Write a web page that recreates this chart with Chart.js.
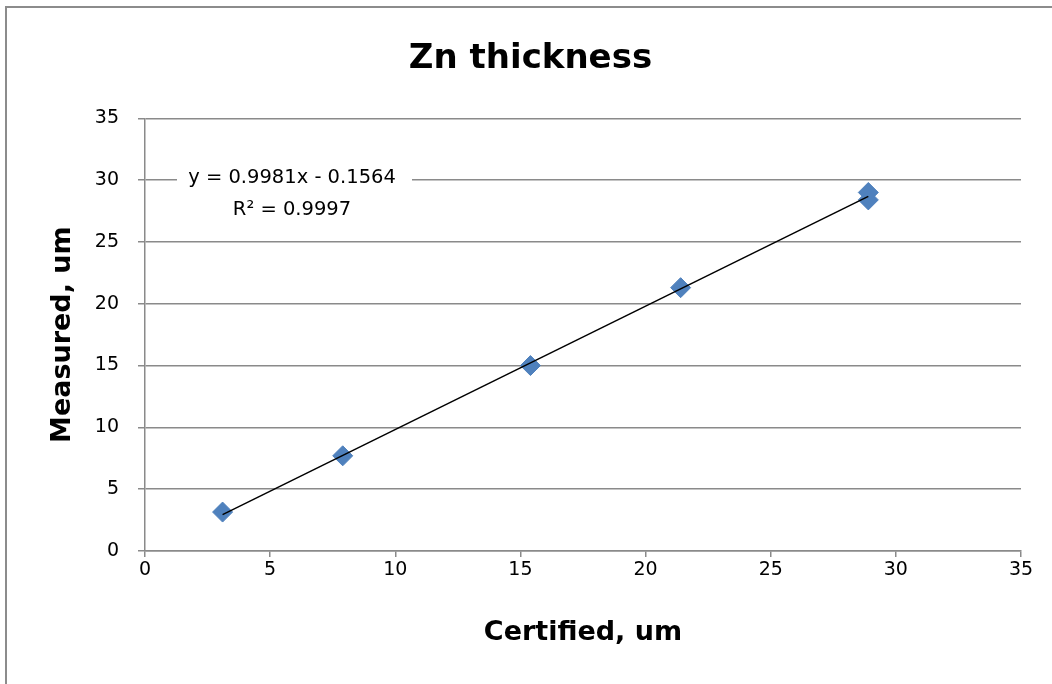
<!DOCTYPE html>
<html>
<head>
<meta charset="utf-8">
<script src="https://cdn.jsdelivr.net/npm/chart.js@4"></script>
<style>
  html, body { margin: 0; padding: 0; background: #fff; }
  #wrap { width: 1052px; height: 684px; position: relative; }
</style>
</head>
<body>
<div id="wrap"><canvas id="scatter-chart"></canvas></div>
<script>
// values
const certified = [3.1, 7.9, 15.4, 21.4, 28.9, 28.9];
const measured = [3.15, 7.7, 15.0, 21.3, 29.0, 28.4];
// trendline ends, as drawn in the picture
const trendX = [3.1, 28.9];
const trendY = [2.94, 28.69];
const eqLines = ['y = 0.9981x - 0.1564', 'R² = 0.9997'];

const FONT = '"DejaVu Sans", sans-serif';
const GRID = '#8a8a8a';

// outer frame + trendline label box
const excelBits = {
    id: 'excelBits',
    beforeDraw(chart) {
        const ctx = chart.ctx;
        ctx.save();
        ctx.fillStyle = '#fff';
        ctx.fillRect(0, 0, chart.width, chart.height);
        ctx.strokeStyle = '#8c8c8c';
        ctx.lineWidth = 2;
        ctx.beginPath();
        ctx.moveTo(6, chart.height);
        ctx.lineTo(6, 7);
        ctx.lineTo(chart.width, 7);
        ctx.stroke();
        ctx.restore();
    },
    afterDraw(chart) {
        const ctx = chart.ctx;
        const a = chart.chartArea;
        ctx.save();
        ctx.fillStyle = '#fff';
        ctx.fillRect(a.left + 32, a.top + 50, 235, 54);
        ctx.fillStyle = '#000';
        ctx.font = '19.5px ' + FONT;
        ctx.textAlign = 'center';
        ctx.textBaseline = 'middle';
        ctx.fillText(eqLines[0], a.left + 147, a.top + 60);
        ctx.fillText(eqLines[1], a.left + 147, a.top + 92);
        ctx.restore();
    }
};

let scatterChart = new Chart('scatter-chart', {
    type: 'scatter',
    data: {
        datasets: [
            {
                label: 'trend',
                data: trendX.map((x, i) => ({x: x, y: trendY[i]})),
                showLine: true,
                borderColor: '#000',
                borderWidth: 1.5,
                pointRadius: 0,
                order: 0
            },
            {
                label: 'Zn',
                data: certified.map((x, i) => ({x: x, y: measured[i]})),
                pointStyle: 'rectRot',
                pointRadius: 10,
                backgroundColor: '#4f81bd',
                borderColor: '#4f81bd',
                borderWidth: 1,
                order: 1
            }
        ]
    },
    options: {
        responsive: true,
        maintainAspectRatio: false,
        animation: false,
        layout: {
            padding: {left: 40, right: 31, top: 10, bottom: 30}
        },
        plugins: {
            legend: false,
            tooltip: {enabled: false},
            title: {
                display: true,
                text: 'Zn thickness',
                color: '#000',
                font: {family: FONT, size: 34, weight: 'bold'},
                padding: {top: 29, bottom: 38.5}
            }
        },
        scales: {
            x: {
                min: 0,
                max: 35,
                ticks: {stepSize: 5, color: '#000', font: {family: FONT, size: 19}, padding: 2},
                grid: {drawOnChartArea: false, drawTicks: true, tickLength: 6, color: GRID, lineWidth: 1.5},
                border: {color: GRID, width: 1.5},
                title: {
                    display: true,
                    text: 'Certified, um',
                    color: '#000',
                    font: {family: FONT, size: 27, weight: 'bold'},
                    padding: {top: 0, bottom: 5}
                },
                afterFit: function(scale) { scale.height = 684 - 551 - 30; }
            },
            y: {
                min: 0,
                max: 35,
                ticks: {stepSize: 5, color: '#000', font: {family: FONT, size: 19}, padding: 19},
                grid: {color: GRID, tickLength: 7, lineWidth: 1.5},
                border: {color: GRID, width: 1.5},
                title: {
                    display: true,
                    text: 'Measured, um',
                    color: '#000',
                    font: {family: FONT, size: 27, weight: 'bold'},
                    padding: {top: 7, bottom: 0}
                },
                afterFit: function(scale) { scale.width = 145 - 40; }
            }
        }
    },
    plugins: [excelBits]
});
</script>
</body>
</html>
